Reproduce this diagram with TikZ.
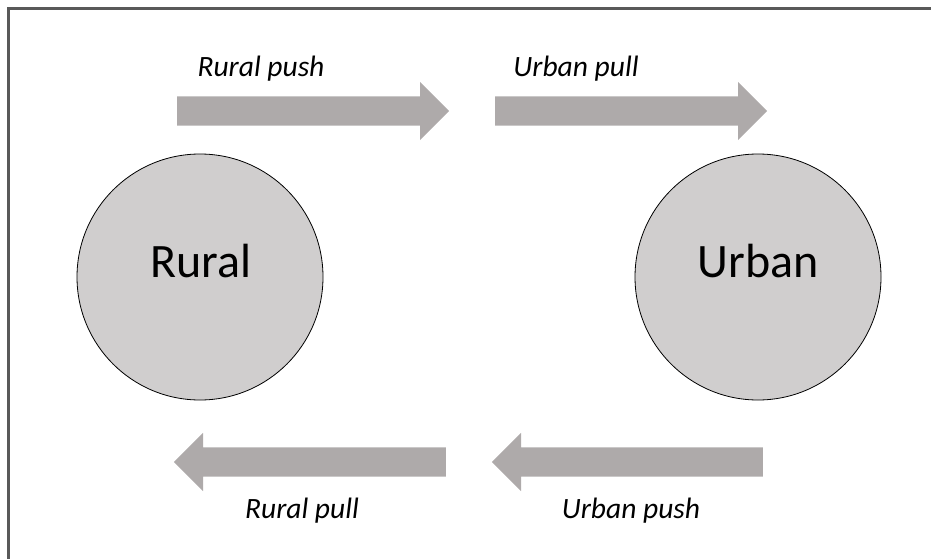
\documentclass[tikz,border=0pt]{standalone}
\usepackage{fontspec}
\setmainfont{Carlito}
\usetikzlibrary{shapes.arrows}

\definecolor{zonefill}{HTML}{D0CECE}
\definecolor{flowfill}{HTML}{AEAAAA}
\definecolor{framegray}{HTML}{595959}

\tikzset{
  zone/.style={circle, draw=black, line width=0.8pt, fill=zonefill, minimum size=246pt, inner sep=0pt},
  zonetext/.style={anchor=base, font=\fontsize{48}{52}\selectfont},
  flow/.style={single arrow, fill=flowfill, draw=none, inner xsep=0pt, inner ysep=14.5pt,
    single arrow head extend=14.5pt, single arrow tip angle=90, minimum height=#1, anchor=tail},
  flowtext/.style={anchor=base, font=\itshape\fontsize{29.5}{32}\selectfont}
}

\begin{document}
\begin{tikzpicture}[x=1pt, y=-1pt]
	  \useasboundingbox (0,0) rectangle (931,559);
	  % Frame
	  \draw[framegray, line width=3pt] (8.5,559) -- (8.5,8.5) -- (931,8.5);

	  % Places
	  \node[zone] (rural) at (200,277) {};
	  \node[zone] (urban) at (758,277) {};
	  \node[zonetext] (ruraltext) at (201,277) {Rural};
	  \node[zonetext] (urbantext) at (758,277) {Urban};

	  % Flows
	  \node[flow=272pt] (ruralpush) at (177,111) {};
	  \node[flow=272pt] (urbanpull) at (495,111) {};
	  \node[flow=272pt, shape border rotate=180] (ruralpull) at (446,462) {};
	  \node[flow=271pt, shape border rotate=180] (urbanpush) at (763,462) {};

	  % Labels
	  \node[flowtext] (ruralpushtext) at (261,77) {Rural push};
	  \node[flowtext] (urbanpulltext) at (576,77) {Urban pull};
	  \node[flowtext] (ruralpulltext) at (302,518) {Rural pull};
	  \node[flowtext] (urbanpushtext) at (631,518) {Urban push};
	\end{tikzpicture}
\end{document}
